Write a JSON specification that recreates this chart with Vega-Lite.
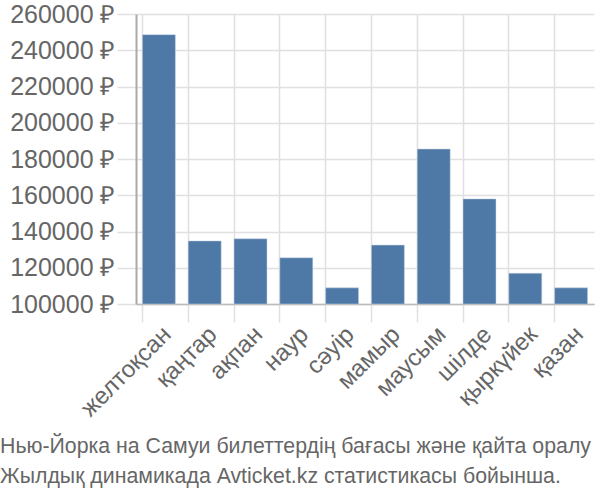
{
  "$schema": "https://vega.github.io/schema/vega-lite/v6.json",
  "width": 458,
  "height": 290,
  "autosize": "none",
  "padding": {"left": 136, "top": 14, "right": 6, "bottom": 196},
  "background": "white",
  "config": {
    "font": "Liberation Sans",
    "view": {"stroke": null}
  },
  "title": {
    "text": ["Нью-Йорка на Самуи билеттердің бағасы және қайта оралу", "Жылдық динамикада Avticket.kz статистикасы бойынша."],
    "orient": "bottom",
    "anchor": "start",
    "frame": "group",
    "dx": -136,
    "offset": 15,
    "fontSize": 21.3,
    "fontWeight": "normal",
    "color": "#666666",
    "lineHeight": 30
  },
  "data": {
    "values": [
      {"month": "желтоқсан", "price": 248600},
      {"month": "қаңтар", "price": 134800},
      {"month": "ақпан", "price": 136000},
      {"month": "наур", "price": 125500},
      {"month": "сәуір", "price": 108900},
      {"month": "мамыр", "price": 132500},
      {"month": "маусым", "price": 185500},
      {"month": "шілде", "price": 158000},
      {"month": "қыркүйек", "price": 117000},
      {"month": "қазан", "price": 108900}
    ]
  },
  "mark": {"type": "bar", "color": "#4e79a7", "stroke": "#c8d4e3", "strokeWidth": 0.5},
  "encoding": {
    "x": {
      "field": "month",
      "type": "nominal",
      "sort": null,
      "scale": {"paddingInner": 0.28, "paddingOuter": 0.14},
      "axis": {
        "title": null,
        "labelAngle": -45,
        "labelFontSize": 24,
        "labelColor": "#666666",
        "bandPosition": 0,
        "grid": true,
        "gridColor": "#e0e0e0",
        "gridWidth": 1.5,
        "tickColor": "#e0e0e0",
        "tickSize": 18,
        "tickWidth": 1.5,
        "domainColor": "#bbbbbb",
        "domainWidth": 1.5,
        "labelPadding": 0
      }
    },
    "y": {
      "field": "price",
      "type": "quantitative",
      "scale": {"domain": [100000, 260000], "zero": false, "nice": false},
      "axis": {
        "title": null,
        "values": [100000, 120000, 140000, 160000, 180000, 200000, 220000, 240000, 260000],
        "labelExpr": "format(datum.value, 'd') + ' ₽'",
        "labelFontSize": 25,
        "labelColor": "#666666",
        "gridColor": "#e0e0e0",
        "gridWidth": 1.5,
        "tickColor": "#e0e0e0",
        "tickSize": 19,
        "tickWidth": 1.5,
        "domainColor": "#aaaaaa",
        "domainWidth": 2,
        "labelPadding": 2
      }
    },
    "y2": {"datum": 100000}
  }
}
